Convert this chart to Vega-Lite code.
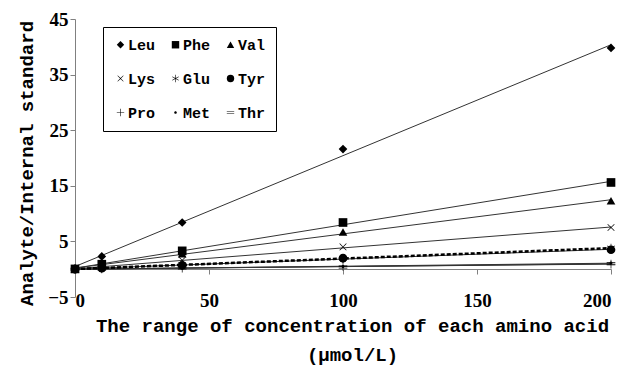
{
  "$schema": "https://vega.github.io/schema/vega-lite/v6.json",
  "width": 536,
  "height": 278,
  "autosize": "none",
  "padding": {"left": 75, "top": 19, "right": 19, "bottom": 69},
  "config": {"view": {"stroke": null}, "font": "Liberation Mono"},
  "data": {
    "values": [
      {"series": "Leu", "x": 0, "y": 0.1}, {"series": "Leu", "x": 10, "y": 2.3}, {"series": "Leu", "x": 40, "y": 8.4}, {"series": "Leu", "x": 100, "y": 21.6}, {"series": "Leu", "x": 200, "y": 39.8},
      {"series": "Phe", "x": 0, "y": 0.05}, {"series": "Phe", "x": 10, "y": 0.9}, {"series": "Phe", "x": 40, "y": 3.3}, {"series": "Phe", "x": 100, "y": 8.4}, {"series": "Phe", "x": 200, "y": 15.6},
      {"series": "Val", "x": 0, "y": 0.05}, {"series": "Val", "x": 10, "y": 0.7}, {"series": "Val", "x": 40, "y": 2.8}, {"series": "Val", "x": 100, "y": 6.7}, {"series": "Val", "x": 200, "y": 12.3},
      {"series": "Lys", "x": 0, "y": 0.03}, {"series": "Lys", "x": 10, "y": 0.4}, {"series": "Lys", "x": 40, "y": 1.6}, {"series": "Lys", "x": 100, "y": 4.0}, {"series": "Lys", "x": 200, "y": 7.5},
      {"series": "Glu", "x": 0, "y": 0.02}, {"series": "Glu", "x": 10, "y": 0.2}, {"series": "Glu", "x": 40, "y": 0.8}, {"series": "Glu", "x": 100, "y": 1.9}, {"series": "Glu", "x": 200, "y": 3.8},
      {"series": "Tyr", "x": 0, "y": 0.02}, {"series": "Tyr", "x": 10, "y": 0.2}, {"series": "Tyr", "x": 40, "y": 0.7}, {"series": "Tyr", "x": 100, "y": 2.0}, {"series": "Tyr", "x": 200, "y": 3.5},
      {"series": "Pro", "x": 0, "y": 0.01}, {"series": "Pro", "x": 10, "y": 0.05}, {"series": "Pro", "x": 40, "y": 0.2}, {"series": "Pro", "x": 100, "y": 0.5}, {"series": "Pro", "x": 200, "y": 0.9},
      {"series": "Met", "x": 0, "y": 0.01}, {"series": "Met", "x": 10, "y": 0.05}, {"series": "Met", "x": 40, "y": 0.2}, {"series": "Met", "x": 100, "y": 0.5}, {"series": "Met", "x": 200, "y": 1.1},
      {"series": "Thr", "x": 0, "y": 0.01}, {"series": "Thr", "x": 10, "y": 0.05}, {"series": "Thr", "x": 40, "y": 0.2}, {"series": "Thr", "x": 100, "y": 0.4}, {"series": "Thr", "x": 200, "y": 1.0}
    ]
  },
  "layer": [
    {
      "transform": [
        {"filter": "datum.series !== 'Glu'"},
        {"regression": "y", "on": "x", "groupby": ["series"], "method": "linear", "extent": [0, 200]}
      ],
      "mark": {"type": "line", "color": "#333333", "strokeWidth": 1},
      "encoding": {
        "x": {"field": "x", "type": "quantitative", "scale": {"domain": [0, 200]},
          "axis": {"values": [0, 50, 100, 150, 200], "grid": false, "offset": -28, "domainColor": "#808080", "tickColor": "#808080", "tickSize": 5,
            "labelFont": "Liberation Serif", "labelFontSize": 19, "labelFontWeight": "bold", "labelColor": "black", "labelPadding": 17,
            "title": ["The range of concentration of each amino acid", "(μmol/L)"],
            "titleFont": "Liberation Mono", "titleFontSize": 19, "titleFontWeight": "bold", "titleColor": "black",
            "titleX": 277, "titleY": 62, "titleAlign": "center", "titleBaseline": "alphabetic", "titleLineHeight": 29}},
        "y": {"field": "y", "type": "quantitative", "scale": {"domain": [-5, 45], "nice": false, "zero": false},
          "axis": {"values": [-5, 5, 15, 25, 35, 45], "grid": false, "domainColor": "#808080", "tickColor": "#808080", "tickSize": 5,
            "labelFont": "Liberation Serif", "labelFontSize": 19, "labelFontWeight": "bold", "labelColor": "black", "labelPadding": 2,
            "title": "Analyte/Internal standard", "titleFont": "Liberation Mono", "titleFontSize": 19, "titleFontWeight": "bold", "titleColor": "black",
            "titleX": -49, "titleY": 144, "titleAngle": -90, "titleAlign": "center", "titleBaseline": "middle"}},
        "detail": {"field": "series"}
      }
    },
    {
      "transform": [
        {"filter": "datum.series === 'Glu'"},
        {"regression": "y", "on": "x", "method": "linear", "extent": [0, 200]}
      ],
      "mark": {"type": "line", "color": "black", "strokeWidth": 2.5, "strokeDash": [4, 2]},
      "encoding": {
        "x": {"field": "x", "type": "quantitative"},
        "y": {"field": "y", "type": "quantitative"}
      }
    },
    {
      "mark": {"type": "point", "filled": true, "color": "black", "size": 75, "opacity": 1},
      "encoding": {
        "x": {"field": "x", "type": "quantitative"},
        "y": {"field": "y", "type": "quantitative"},
        "shape": {"field": "series", "type": "nominal",
          "scale": {"domain": ["Leu", "Phe", "Val", "Lys", "Glu", "Tyr", "Pro", "Met", "Thr"],
            "range": ["diamond", "square", "triangle-up",
              "M0.721,-0.834L0.834,-0.721L0.113,0L0.834,0.721L0.721,0.834L0,0.113L-0.721,0.834L-0.834,0.721L-0.113,0L-0.834,-0.721L-0.721,-0.834L0,-0.113Z",
              "M-0.08,-1L0.08,-1L0.08,1L-0.08,1ZM0.826,0.569L0.906,0.431L-0.826,-0.569L-0.906,-0.431ZM0.906,-0.431L0.826,-0.569L-0.906,0.431L-0.826,0.569Z",
              "circle",
              "M-0.08,-1L0.08,-1L0.08,-0.08L1,-0.08L1,0.08L0.08,0.08L0.08,1L-0.08,1L-0.08,0.08L-1,0.08L-1,-0.08L-0.08,-0.08Z",
              "M-0.35,0A0.35,0.35 0 1,0 0.35,0A0.35,0.35 0 1,0 -0.35,0Z",
              "M-1,-0.35L1,-0.35L1,-0.2L-1,-0.2ZM-1,0.2L1,0.2L1,0.35L-1,0.35Z"]},
          "legend": {"orient": "none", "legendX": 28, "legendY": 8, "columns": 3, "direction": "horizontal", "title": null,
            "strokeColor": "black", "fillColor": "white", "padding": 10,
            "labelFont": "Liberation Mono", "labelFontSize": 15, "labelFontWeight": "bold", "labelColor": "black",
            "symbolSize": 55, "symbolFillColor": "black",
            "rowPadding": 18, "columnPadding": 12, "labelOffset": 0, "symbolOpacity": 1}}
      }
    }
  ]
}
